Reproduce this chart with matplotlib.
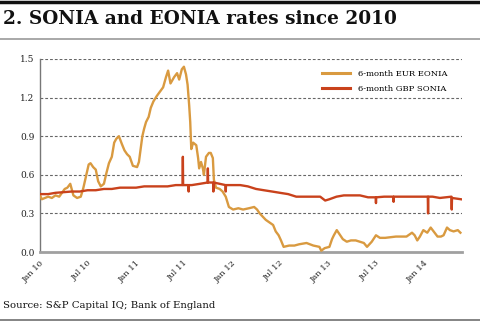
import matplotlib
matplotlib.use("Agg")
import matplotlib.pyplot as plt
import pandas as pd

# 6-month EUR EONIA (%)
eonia_dates = [
    "2010-01-01", "2010-01-08", "2010-01-20", "2010-02-01", "2010-02-15", "2010-03-01",
    "2010-03-15", "2010-04-05", "2010-04-15", "2010-04-26", "2010-05-08", "2010-05-22",
    "2010-06-05", "2010-06-15", "2010-06-26", "2010-07-05", "2010-07-12", "2010-07-22",
    "2010-08-01", "2010-08-10", "2010-08-20", "2010-09-01", "2010-09-10", "2010-09-20",
    "2010-10-01", "2010-10-10", "2010-10-18", "2010-10-28", "2010-11-08", "2010-11-18",
    "2010-11-28", "2010-12-08", "2010-12-20", "2011-01-05", "2011-01-12", "2011-01-18",
    "2011-01-25", "2011-02-01", "2011-02-08", "2011-02-18", "2011-02-26", "2011-03-08",
    "2011-03-20", "2011-04-03", "2011-04-14", "2011-04-25", "2011-05-03", "2011-05-12",
    "2011-05-26", "2011-06-06", "2011-06-14", "2011-06-24", "2011-07-02", "2011-07-10",
    "2011-07-16", "2011-07-22", "2011-07-26", "2011-07-30", "2011-08-06", "2011-08-18",
    "2011-08-25", "2011-08-29", "2011-09-05", "2011-09-12", "2011-09-16", "2011-09-24",
    "2011-10-05", "2011-10-12", "2011-10-20", "2011-10-24", "2011-11-01", "2011-11-15",
    "2011-11-26", "2011-12-08", "2011-12-20", "2012-01-05", "2012-01-25", "2012-02-12",
    "2012-03-05", "2012-03-25", "2012-04-05", "2012-04-15", "2012-05-08", "2012-06-05",
    "2012-06-15", "2012-06-26", "2012-07-05", "2012-07-15", "2012-08-05", "2012-08-25",
    "2012-09-12", "2012-10-10", "2012-11-05", "2012-11-28", "2012-12-05", "2012-12-18",
    "2013-01-05", "2013-01-15", "2013-01-22", "2013-02-02", "2013-02-12", "2013-02-25",
    "2013-03-12", "2013-03-28", "2013-04-15", "2013-05-01", "2013-05-16", "2013-05-28",
    "2013-06-15", "2013-07-01", "2013-07-16", "2013-08-05", "2013-08-25", "2013-09-15",
    "2013-10-05", "2013-10-25", "2013-11-15", "2013-11-25", "2013-12-05", "2013-12-15",
    "2013-12-28", "2014-01-12", "2014-01-25", "2014-02-05", "2014-02-20", "2014-03-05",
    "2014-03-15", "2014-03-28", "2014-04-08", "2014-04-22", "2014-05-08", "2014-05-18",
]
eonia_values = [
    0.44, 0.41, 0.42, 0.43, 0.42, 0.44,
    0.43, 0.49, 0.50, 0.53, 0.44, 0.42,
    0.43, 0.50, 0.60, 0.68, 0.69, 0.66,
    0.64, 0.55, 0.51, 0.53, 0.61, 0.69,
    0.74, 0.85, 0.88, 0.90, 0.84, 0.79,
    0.76, 0.74, 0.67, 0.66, 0.70, 0.79,
    0.90, 0.96, 1.01, 1.05, 1.12, 1.17,
    1.21, 1.25, 1.28, 1.36, 1.41, 1.31,
    1.36, 1.39, 1.34, 1.42, 1.44, 1.38,
    1.30, 1.14, 1.01, 0.80, 0.85, 0.83,
    0.73, 0.65, 0.70, 0.65, 0.60, 0.74,
    0.77, 0.77, 0.73, 0.56, 0.50, 0.49,
    0.47, 0.43, 0.35, 0.33, 0.34, 0.33,
    0.34, 0.35, 0.33, 0.30, 0.25, 0.21,
    0.16, 0.13, 0.09, 0.04, 0.05, 0.05,
    0.06, 0.07, 0.05, 0.04, 0.01, 0.03,
    0.04, 0.10, 0.13, 0.17, 0.14, 0.10,
    0.08, 0.09, 0.09, 0.08, 0.07, 0.04,
    0.08, 0.13, 0.11, 0.11, 0.115, 0.12,
    0.12, 0.12, 0.15, 0.13, 0.09, 0.12,
    0.17, 0.15, 0.19, 0.16, 0.12, 0.12,
    0.13, 0.19, 0.17, 0.16, 0.17, 0.15,
]

# 6-month GBP SONIA (%)
sonia_dates = [
    "2010-01-01", "2010-02-01", "2010-03-01", "2010-04-01", "2010-05-01", "2010-06-01",
    "2010-07-01", "2010-08-01", "2010-09-01", "2010-10-01", "2010-11-01", "2010-12-01",
    "2011-01-01", "2011-02-01", "2011-03-01", "2011-04-01", "2011-05-01", "2011-06-01",
    "2011-06-27", "2011-06-28", "2011-06-29", "2011-07-19", "2011-07-20", "2011-07-21",
    "2011-08-01", "2011-09-01", "2011-09-30", "2011-10-01", "2011-10-02", "2011-10-21",
    "2011-10-22", "2011-10-23", "2011-11-15", "2011-12-07", "2011-12-08", "2011-12-09",
    "2012-01-01", "2012-02-01", "2012-03-01", "2012-04-01", "2012-05-01", "2012-06-01",
    "2012-07-01", "2012-08-01", "2012-09-01", "2012-10-01", "2012-11-01", "2012-12-01",
    "2012-12-20", "2013-01-05", "2013-02-01", "2013-03-01", "2013-04-01", "2013-05-01",
    "2013-06-01", "2013-06-30", "2013-07-01", "2013-07-02", "2013-08-01", "2013-09-05",
    "2013-09-06", "2013-09-07", "2013-10-01", "2013-11-01", "2013-12-01", "2014-01-14",
    "2014-01-15", "2014-01-16", "2014-02-01", "2014-03-01", "2014-04-14", "2014-04-15",
    "2014-04-16", "2014-05-20",
]
sonia_values = [
    0.45, 0.45, 0.46, 0.465, 0.47, 0.47,
    0.48, 0.48, 0.49, 0.49, 0.50, 0.50,
    0.50, 0.51, 0.51, 0.51, 0.51, 0.52,
    0.52, 0.74, 0.52, 0.52, 0.47, 0.52,
    0.52, 0.53, 0.54, 0.65, 0.54, 0.54,
    0.47, 0.54, 0.53, 0.52, 0.47, 0.52,
    0.52, 0.52, 0.51, 0.49, 0.48, 0.47,
    0.46, 0.45, 0.43, 0.43, 0.43, 0.43,
    0.40, 0.41, 0.43, 0.44, 0.44, 0.44,
    0.425, 0.425, 0.38, 0.425, 0.43, 0.43,
    0.39, 0.43, 0.43, 0.43, 0.43, 0.43,
    0.30, 0.43, 0.43, 0.42, 0.43, 0.33,
    0.42, 0.41,
]

yticks = [0.0, 0.3, 0.6, 0.9, 1.2, 1.5]
xtick_dates = ["2010-01-01", "2010-07-01", "2011-01-01", "2011-07-01", "2012-01-01",
               "2012-07-01", "2013-01-01", "2013-07-01", "2014-01-01"]
xtick_labels = ["Jan 10", "Jul 10", "Jan 11", "Jul 11", "Jan 12",
                "Jul 12", "Jan 13", "Jul 13", "Jan 14"]

EONIA_COLOR = "#D99A40"
SONIA_COLOR = "#C9421C"
SERIF = ["DejaVu Serif"]

fig = plt.figure(figsize=(4.8, 3.22), dpi=100)
ax = fig.add_axes([40 / 480, 1 - 252 / 322, 422 / 480, 193 / 322])

ax.plot(pd.to_datetime(eonia_dates), eonia_values, color=EONIA_COLOR, lw=1.7,
        label="6-month EUR EONIA", zorder=3, solid_joinstyle="round")
ax.plot(pd.to_datetime(sonia_dates), sonia_values, color=SONIA_COLOR, lw=1.7,
        label="6-month GBP SONIA", zorder=4, solid_joinstyle="round")

ax.set_ylim(0, 1.5)
ax.set_xlim(pd.Timestamp("2010-01-01"), pd.Timestamp("2014-05-24"))
ax.set_yticks(yticks)
ax.set_yticklabels([f"{v:.1f}" for v in yticks], family=SERIF, fontsize=6.5, color="#222222")
ax.set_xticks(pd.to_datetime(xtick_dates))
ax.set_xticklabels(xtick_labels, family=SERIF, fontsize=6, rotation=45,
                   ha="right", va="top", rotation_mode="anchor", color="#222222")
ax.tick_params(axis="both", length=0)
ax.tick_params(axis="y", pad=4)
ax.tick_params(axis="x", pad=5)

for v in yticks[1:]:
    ax.axhline(v, color="#666666", lw=0.8, ls=(0, (2.5, 1.8)), zorder=1)

for side in ["top", "right"]:
    ax.spines[side].set_visible(False)
ax.spines["left"].set_color("#777777")
ax.spines["left"].set_linewidth(1.0)
ax.spines["bottom"].set_color("#A0A0A0")
ax.spines["bottom"].set_linewidth(2.0)

leg = ax.legend(loc="upper right", bbox_to_anchor=(0.977, 0.97), frameon=False,
                prop={"family": SERIF, "size": 6}, handlelength=3.4,
                handletextpad=0.9, labelspacing=0.9, borderaxespad=0.2)
for h in leg.legend_handles:
    h.set_linewidth(2.2)

# header and footer rules
fig.add_artist(plt.Line2D([0, 1], [1 - 2 / 322, 1 - 2 / 322], color="#111111", lw=2.5))
fig.add_artist(plt.Line2D([0, 1], [1 - 38.5 / 322, 1 - 38.5 / 322], color="#9A9A9A", lw=1.2))
fig.add_artist(plt.Line2D([0, 1], [1 - 319.5 / 322, 1 - 319.5 / 322], color="#707070", lw=1.2))

fig.text(3 / 480, 1 - 19 / 322, "2. SONIA and EONIA rates since 2010", family=SERIF,
         fontsize=13.3, fontweight="bold", va="center", ha="left", color="#111111")
fig.text(3 / 480, 1 - 305 / 322, "Source: S&P Capital IQ; Bank of England", family=SERIF,
         fontsize=7.3, va="center", ha="left", color="#111111")

fig.savefig("out.png", dpi=100)
